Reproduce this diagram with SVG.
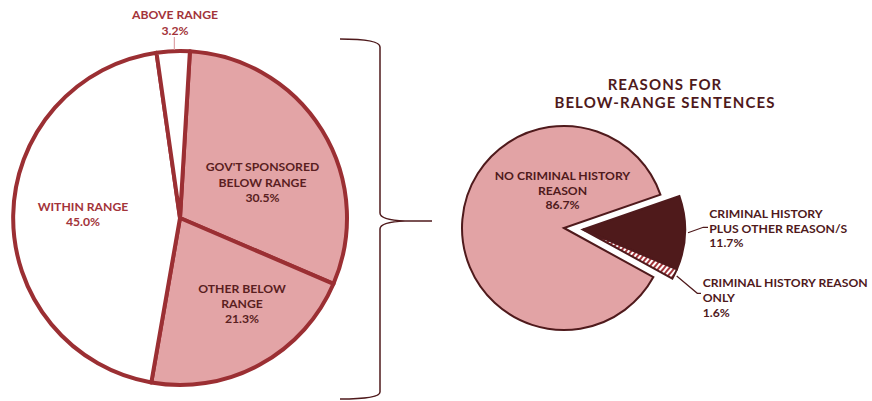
<svg xmlns="http://www.w3.org/2000/svg" width="872" height="401" viewBox="0 0 872 401">
<defs>
<style>
text{font-family:Lato,"Liberation Sans",sans-serif;font-weight:700;font-size:12.2px;}
.red{fill:#a3343a;}
.dk{fill:#5a1e21;}
.rt{fill:#4f1a1c;}
.lp{stroke:#9b2f33;stroke-width:4;stroke-linejoin:round;}
.rp{stroke:#4f1a1c;stroke-width:2;stroke-linejoin:miter;}
.lead{fill:none;stroke:#4f1a1c;stroke-width:1.2;}
.ttl{font-size:15px;letter-spacing:1.1px;}
</style>
<pattern id="hatch" width="4" height="4" patternUnits="userSpaceOnUse" patternTransform="rotate(40)">
<rect width="4" height="4" fill="#ffffff"/>
<rect width="2" height="4" fill="#a3343a"/>
</pattern>
</defs>
<rect width="872" height="401" fill="#ffffff"/>

<g id="left-pie">
<path id="gov-sponsored" class="lp" fill="#e3a4a6" d="M180,218 L189.9,51.3 A167,167 0 0 1 333.5,283.8 Z"/>
<path id="other-below" class="lp" fill="#e3a4a6" d="M180,218 L333.5,283.8 A167,167 0 0 1 151.3,382.5 Z"/>
<path id="within" class="lp" fill="#ffffff" d="M180,218 L151.3,382.5 A167,167 0 0 1 156.5,52.7 Z"/>
<path id="above" class="lp" fill="#ffffff" d="M180,218 L156.5,52.7 A167,167 0 0 1 189.9,51.3 Z"/>
</g>

<g id="label-above">
<line x1="174.3" y1="37" x2="174.3" y2="50" stroke="#d88f94" stroke-width="1"/>
<text class="red" x="175" y="19" text-anchor="middle">ABOVE RANGE</text>
<text class="red" x="175" y="35" text-anchor="middle">3.2%</text>
</g>
<g id="label-gov">
<text class="dk" x="262.5" y="171" text-anchor="middle">GOV'T SPONSORED</text>
<text class="dk" x="262.5" y="186.5" text-anchor="middle">BELOW RANGE</text>
<text class="dk" x="262.5" y="202" text-anchor="middle">30.5%</text>
</g>
<g id="label-within">
<text class="red" x="83" y="210.7" text-anchor="middle">WITHIN RANGE</text>
<text class="red" x="83" y="225.7" text-anchor="middle">45.0%</text>
</g>
<g id="label-other">
<text class="dk" x="242" y="292.5" text-anchor="middle">OTHER BELOW</text>
<text class="dk" x="242" y="307.5" text-anchor="middle">RANGE</text>
<text class="dk" x="242" y="322.5" text-anchor="middle">21.3%</text>
</g>

<g id="connectors">
<path id="bracket" fill="none" stroke="#4f1a1c" stroke-width="1.5" d="M340,39 Q380,39 380,47 L380,213 Q380,220 405,221 L432,221 L405,221 Q380,222 380,229 L380,392 Q380,399 340,399"/>
<path class="lead" d="M688,232.7 L703.3,227.3 L708,227.3"/>
<path class="lead" d="M676.7,276 L697.3,293.3 L701,293.3"/>
</g>

<g id="title">
<text class="rt ttl" x="665" y="90" text-anchor="middle">REASONS FOR</text>
<text class="rt ttl" x="665" y="107.7" text-anchor="middle">BELOW-RANGE SENTENCES</text>
</g>

<g id="right-pie">
<path id="no-criminal" class="rp" fill="#e2a3a5" d="M564,228 L653.4,277.1 A102,102 0 1 1 660.4,194.6 Z"/>
<path id="crim-plus" class="rp" fill="#4f1a1b" d="M583,229.5 L679.4,196.1 A102,102 0 0 1 676.9,269.4 Z"/>
<path id="crim-only" class="rp" fill="url(#hatch)" d="M583,229.5 L676.9,269.4 A102,102 0 0 1 672.4,278.6 Z"/>
</g>

<g id="label-no-criminal">
<text class="rt" x="562.5" y="180" text-anchor="middle">NO CRIMINAL HISTORY</text>
<text class="rt" x="562.5" y="194.5" text-anchor="middle">REASON</text>
<text class="rt" x="562.5" y="209.3" text-anchor="middle">86.7%</text>
</g>
<g id="label-crim-plus">
<text class="rt" x="709.3" y="218.3">CRIMINAL HISTORY</text>
<text class="rt" x="709.3" y="233.3">PLUS OTHER REASON/S</text>
<text class="rt" x="709.3" y="247.3">11.7%</text>
</g>
<g id="label-crim-only">
<text class="rt" x="702.7" y="286.7">CRIMINAL HISTORY REASON</text>
<text class="rt" x="702.7" y="301.7">ONLY</text>
<text class="rt" x="702.7" y="316.7">1.6%</text>
</g>
</svg>
